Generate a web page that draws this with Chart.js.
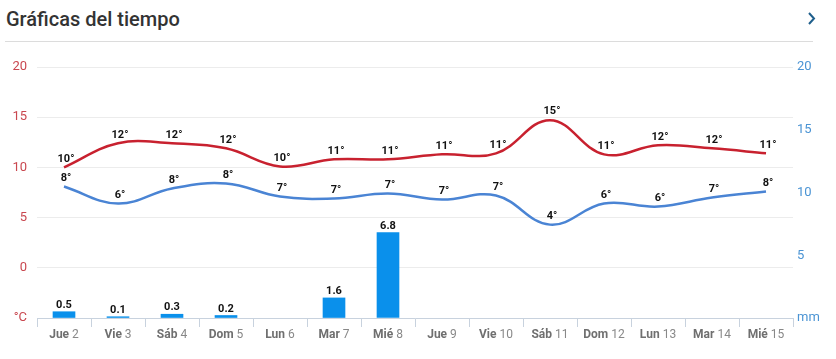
<!DOCTYPE html>
<html>
<head>
<meta charset="utf-8">
<script src="https://cdn.jsdelivr.net/npm/chart.js@4/dist/chart.umd.min.js"></script>
<style>
  body { margin: 0; background: #fff; font-family: Roboto, sans-serif; }
  #wrap { position: relative; width: 836px; height: 359px; }
  #title { position: absolute; left: 6px; top: 7px; font-size: 20px; font-weight: 500; color: #333; line-height: 24px; }
  #arrow { position: absolute; left: 805px; top: 10px; }
  #sep { position: absolute; left: 5px; top: 41px; width: 808px; height: 1px; background: #dcdcdc; }
  canvas { position: absolute; left: 0; top: 0; }
</style>
</head>
<body>
<div id="wrap">
  <div id="title">Gráficas del tiempo</div>
  <svg id="arrow" width="14" height="18"><polyline points="4,3 9,8.5 4,14" fill="none" stroke="#1f5f8c" stroke-width="2"/></svg>
  <div id="sep"></div>
  <canvas id="myChart" width="836" height="359"></canvas>
</div>
<script>
let dayNames = ['Jue', 'Vie', 'Sáb', 'Dom', 'Lun', 'Mar', 'Mié', 'Jue', 'Vie', 'Sáb', 'Dom', 'Lun', 'Mar', 'Mié'];
let dayNums = [2, 3, 4, 5, 6, 7, 8, 9, 10, 11, 12, 13, 14, 15];
let tMax = [10.0, 12.4, 12.4, 11.9, 10.1, 10.8, 10.8, 11.3, 11.4, 14.7, 11.3, 12.2, 11.9, 11.4];
let tMin = [8.1, 6.4, 7.9, 8.4, 7.1, 6.9, 7.4, 6.8, 7.2, 4.3, 6.4, 6.1, 7.0, 7.6];
let rain = [0.5, 0.1, 0.3, 0.2, 0, 1.6, 6.8, 0, 0, 0, 0, 0, 0, 0];

let labels = dayNames.map((d, i) => d + ' ' + dayNums[i]);

// etiquetas de valores y del eje x
let labelsPlugin = {
  id: 'labelsPlugin',
  afterDatasetsDraw(chart) {
    let ctx = chart.ctx;
    ctx.save();
    ctx.font = 'bold 11px Roboto';
    ctx.fillStyle = '#111';
    ctx.textAlign = 'center';
    ctx.textBaseline = 'bottom';
    chart.data.datasets.forEach((ds, i) => {
      let meta = chart.getDatasetMeta(i);
      meta.data.forEach((el, j) => {
        let v = ds.data[j];
        if (ds.type === 'bar') {
          if (!v) return;
          ctx.fillText(v.toFixed(1), el.x, el.y - 1);
        } else {
          ctx.fillText(Math.round(v) + '°', el.x + 2, el.y - 3);
        }
      });
    });

    let xs = chart.scales.x;
    ctx.textAlign = 'left';
    ctx.textBaseline = 'middle';
    labels.forEach((l, i) => {
      let x = xs.getPixelForTick(i);
      ctx.font = 'bold 12px Roboto';
      let w1 = ctx.measureText(dayNames[i] + ' ').width;
      ctx.font = '12px Roboto';
      let w2 = ctx.measureText(String(dayNums[i])).width;
      let x0 = x - (w1 + w2) / 2;
      ctx.font = 'bold 12px Roboto';
      ctx.fillStyle = '#6f6f6f';
      ctx.fillText(dayNames[i] + ' ', x0, xs.top + 17);
      ctx.font = '12px Roboto';
      ctx.fillStyle = '#888';
      ctx.fillText(String(dayNums[i]), x0 + w1, xs.top + 17);
    });
    ctx.restore();
  }
};

let chart = new Chart(document.getElementById('myChart').getContext('2d'), {
  type: 'bar',
  data: {
    labels: labels,
    datasets: [
      {
        type: 'line',
        data: tMax,
        borderColor: '#c8212f',
        borderWidth: 2.5,
        pointRadius: 0,
        tension: 0.4,
        yAxisID: 'y',
        order: 0
      },
      {
        type: 'line',
        data: tMin,
        borderColor: '#4a84d4',
        borderWidth: 2.5,
        pointRadius: 0,
        tension: 0.4,
        yAxisID: 'y',
        order: 1
      },
      {
        type: 'bar',
        data: rain.map(v => v || null),
        backgroundColor: '#0a90eb',
        barThickness: 22,
        yAxisID: 'y1',
        order: 2
      }
    ]
  },
  plugins: [labelsPlugin],
  options: {
    responsive: false,
    animation: false,
    layout: { padding: { top: 67, left: 0, right: 0, bottom: 0 } },
    plugins: { legend: { display: false }, tooltip: { enabled: false } },
    scales: {
      x: {
        offset: true,
        afterFit: s => { s.height = 41; },
        grid: { drawOnChartArea: false, tickLength: 9, color: '#c8d2de' },
        border: { color: '#c8d2de' },
        ticks: { display: false }
      },
      y: {
        position: 'left',
        min: -5,
        max: 20,
        afterFit: s => { s.width = 37; },
        grid: { color: '#ececec', drawTicks: false },
        border: { display: false },
        ticks: {
          stepSize: 5,
          padding: 10,
          color: '#c9474f',
          font: { family: 'Roboto', size: 13 },
          callback: v => v === -5 ? '°C' : v
        }
      },
      y1: {
        position: 'right',
        min: 0,
        max: 20,
        afterFit: s => { s.width = 43; },
        grid: { drawOnChartArea: false, drawTicks: false },
        border: { display: false },
        ticks: {
          stepSize: 5,
          padding: 4,
          color: '#4b94d4',
          font: { family: 'Roboto', size: 13 },
          callback: v => v === 0 ? 'mm' : v
        }
      }
    }
  }
});
</script>
</body>
</html>
